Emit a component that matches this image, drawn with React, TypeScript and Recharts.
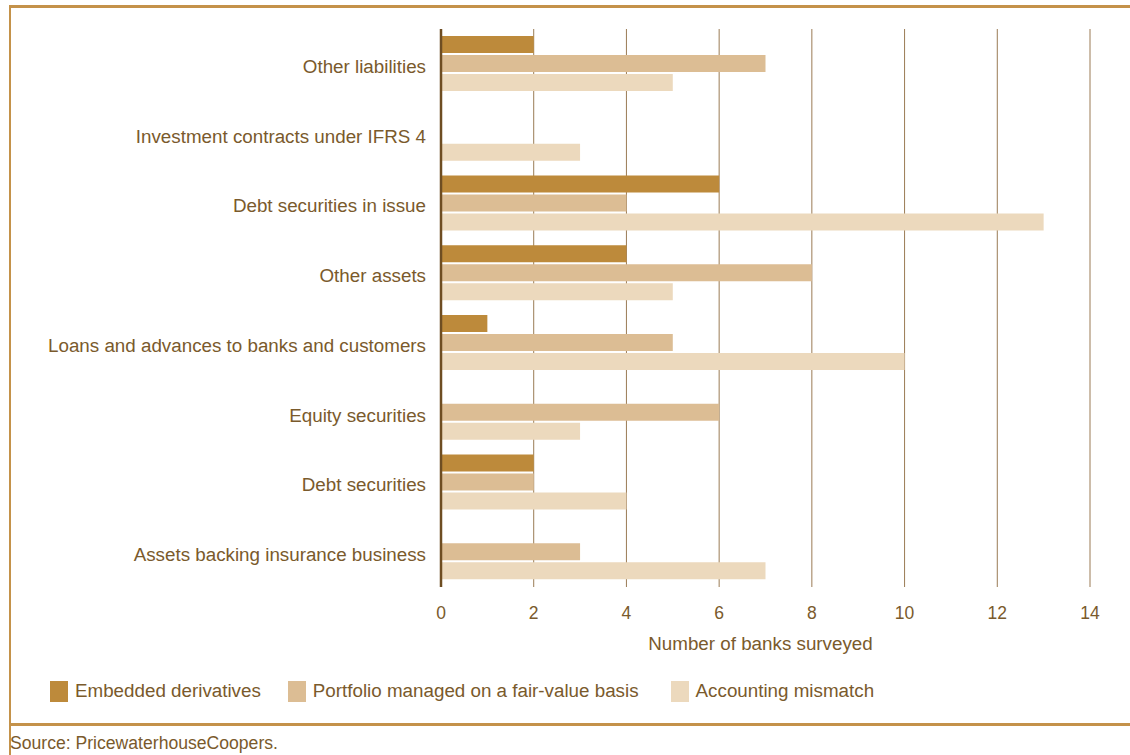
import React from "react";
import { BarChart, Bar, XAxis, YAxis, CartesianGrid } from "recharts";

// (number of banks surveyed)
const categories = [
  "Other liabilities",
  "Investment contracts under IFRS 4",
  "Debt securities in issue",
  "Other assets",
  "Loans and advances to banks and customers",
  "Equity securities",
  "Debt securities",
  "Assets backing insurance business",
];
const embeddedDerivatives = [2, 0, 6, 4, 1, 0, 2, 0];
const fairValuePortfolio = [7, 0, 4, 8, 5, 6, 2, 3];
const accountingMismatch = [5, 3, 13, 5, 10, 3, 4, 7];
const xTicks = [0, 2, 4, 6, 8, 10, 12, 14];

const SERIES = [
  { key: "embedded", name: "Embedded derivatives", color: "#bd8a3b" },
  { key: "portfolio", name: "Portfolio managed on a fair-value basis", color: "#dcbd94" },
  { key: "mismatch", name: "Accounting mismatch", color: "#ecd9bd" },
];

const TEXT = "#7a5a2c";
const FONT = "'Liberation Sans', Arial, Helvetica, sans-serif";

const data = categories.map((name, i) => ({
  name,
  embedded: embeddedDerivatives[i],
  portfolio: fairValuePortfolio[i],
  mismatch: accountingMismatch[i],
}));

function CategoryTick(props: any) {
  const { x, y, payload } = props;
  return (
    <text x={x} y={y} dy={9} textAnchor="end" fill={TEXT} fontSize={18.8} fontFamily={FONT}>
      {payload.value}
    </text>
  );
}

export default function App() {
  return (
    <div
      style={{
        position: "fixed",
        left: 0,
        top: 0,
        width: 1130,
        height: 755,
        background: "#fff",
        fontFamily: FONT,
        overflow: "hidden",
      }}
    >
      {/* frame */}
      <div
        style={{
          position: "absolute",
          left: 9,
          top: 5,
          width: 1140,
          height: 715,
          borderTop: "3px solid #c4924a",
          borderLeft: "2px solid #c4924a",
          borderBottom: "3px solid #c4924a",
        }}
      />
      <div
        style={{
          position: "absolute",
          left: 9,
          top: 723,
          width: 2,
          height: 40,
          background: "#c4924a",
        }}
      />

      <div style={{ position: "absolute", left: 0, top: 0 }}>
        <BarChart
          width={1130}
          height={660}
          data={data}
          layout="vertical"
          margin={{ top: 29, right: 40, bottom: 10, left: 0 }}
          barCategoryGap={7}
          barGap={2}
        >
          <CartesianGrid horizontal={false} vertical stroke="#9a7b55" strokeWidth={1} />
          <XAxis
            type="number"
            domain={[0, 14]}
            ticks={xTicks}
            axisLine={false}
            tickLine={false}
            tickSize={0}
            tickMargin={20}
            height={63}
            tick={{ fill: TEXT, fontSize: 17.5, fontFamily: FONT }}
            label={{
              value: "Number of banks surveyed",
              position: "insideBottom",
              offset: 0,
              dx: -5,
              fill: TEXT,
              fontSize: 18.8,
              fontFamily: FONT,
            }}
          />
          <YAxis
            type="category"
            dataKey="name"
            width={441}
            axisLine={{ stroke: "#6e4d22", strokeWidth: 2.5 }}
            tickLine={false}
            tickSize={0}
            tickMargin={15}
            interval={0}
            tick={<CategoryTick />}
          />
          {SERIES.map((s) => (
            <Bar key={s.key} dataKey={s.key} name={s.name} fill={s.color} isAnimationActive={false} />
          ))}
        </BarChart>
      </div>

      {/* legend */}
      <div
        style={{
          position: "absolute",
          left: 50,
          top: 680,
          display: "flex",
          alignItems: "center",
          fontSize: 18.8,
          color: TEXT,
        }}
      >
        {SERIES.map((s, i) => (
          <div
            key={s.key}
            style={{ display: "flex", alignItems: "center", marginRight: i === 0 ? 27 : 32 }}
          >
            <span
              style={{ display: "inline-block", width: 18, height: 21, background: s.color, marginRight: 7 }}
            />
            <span>{s.name}</span>
          </div>
        ))}
      </div>

      <div
        style={{
          position: "absolute",
          left: 10,
          top: 733,
          fontSize: 17.6,
          color: TEXT,
        }}
      >
        Source: PricewaterhouseCoopers.
      </div>
    </div>
  );
}
